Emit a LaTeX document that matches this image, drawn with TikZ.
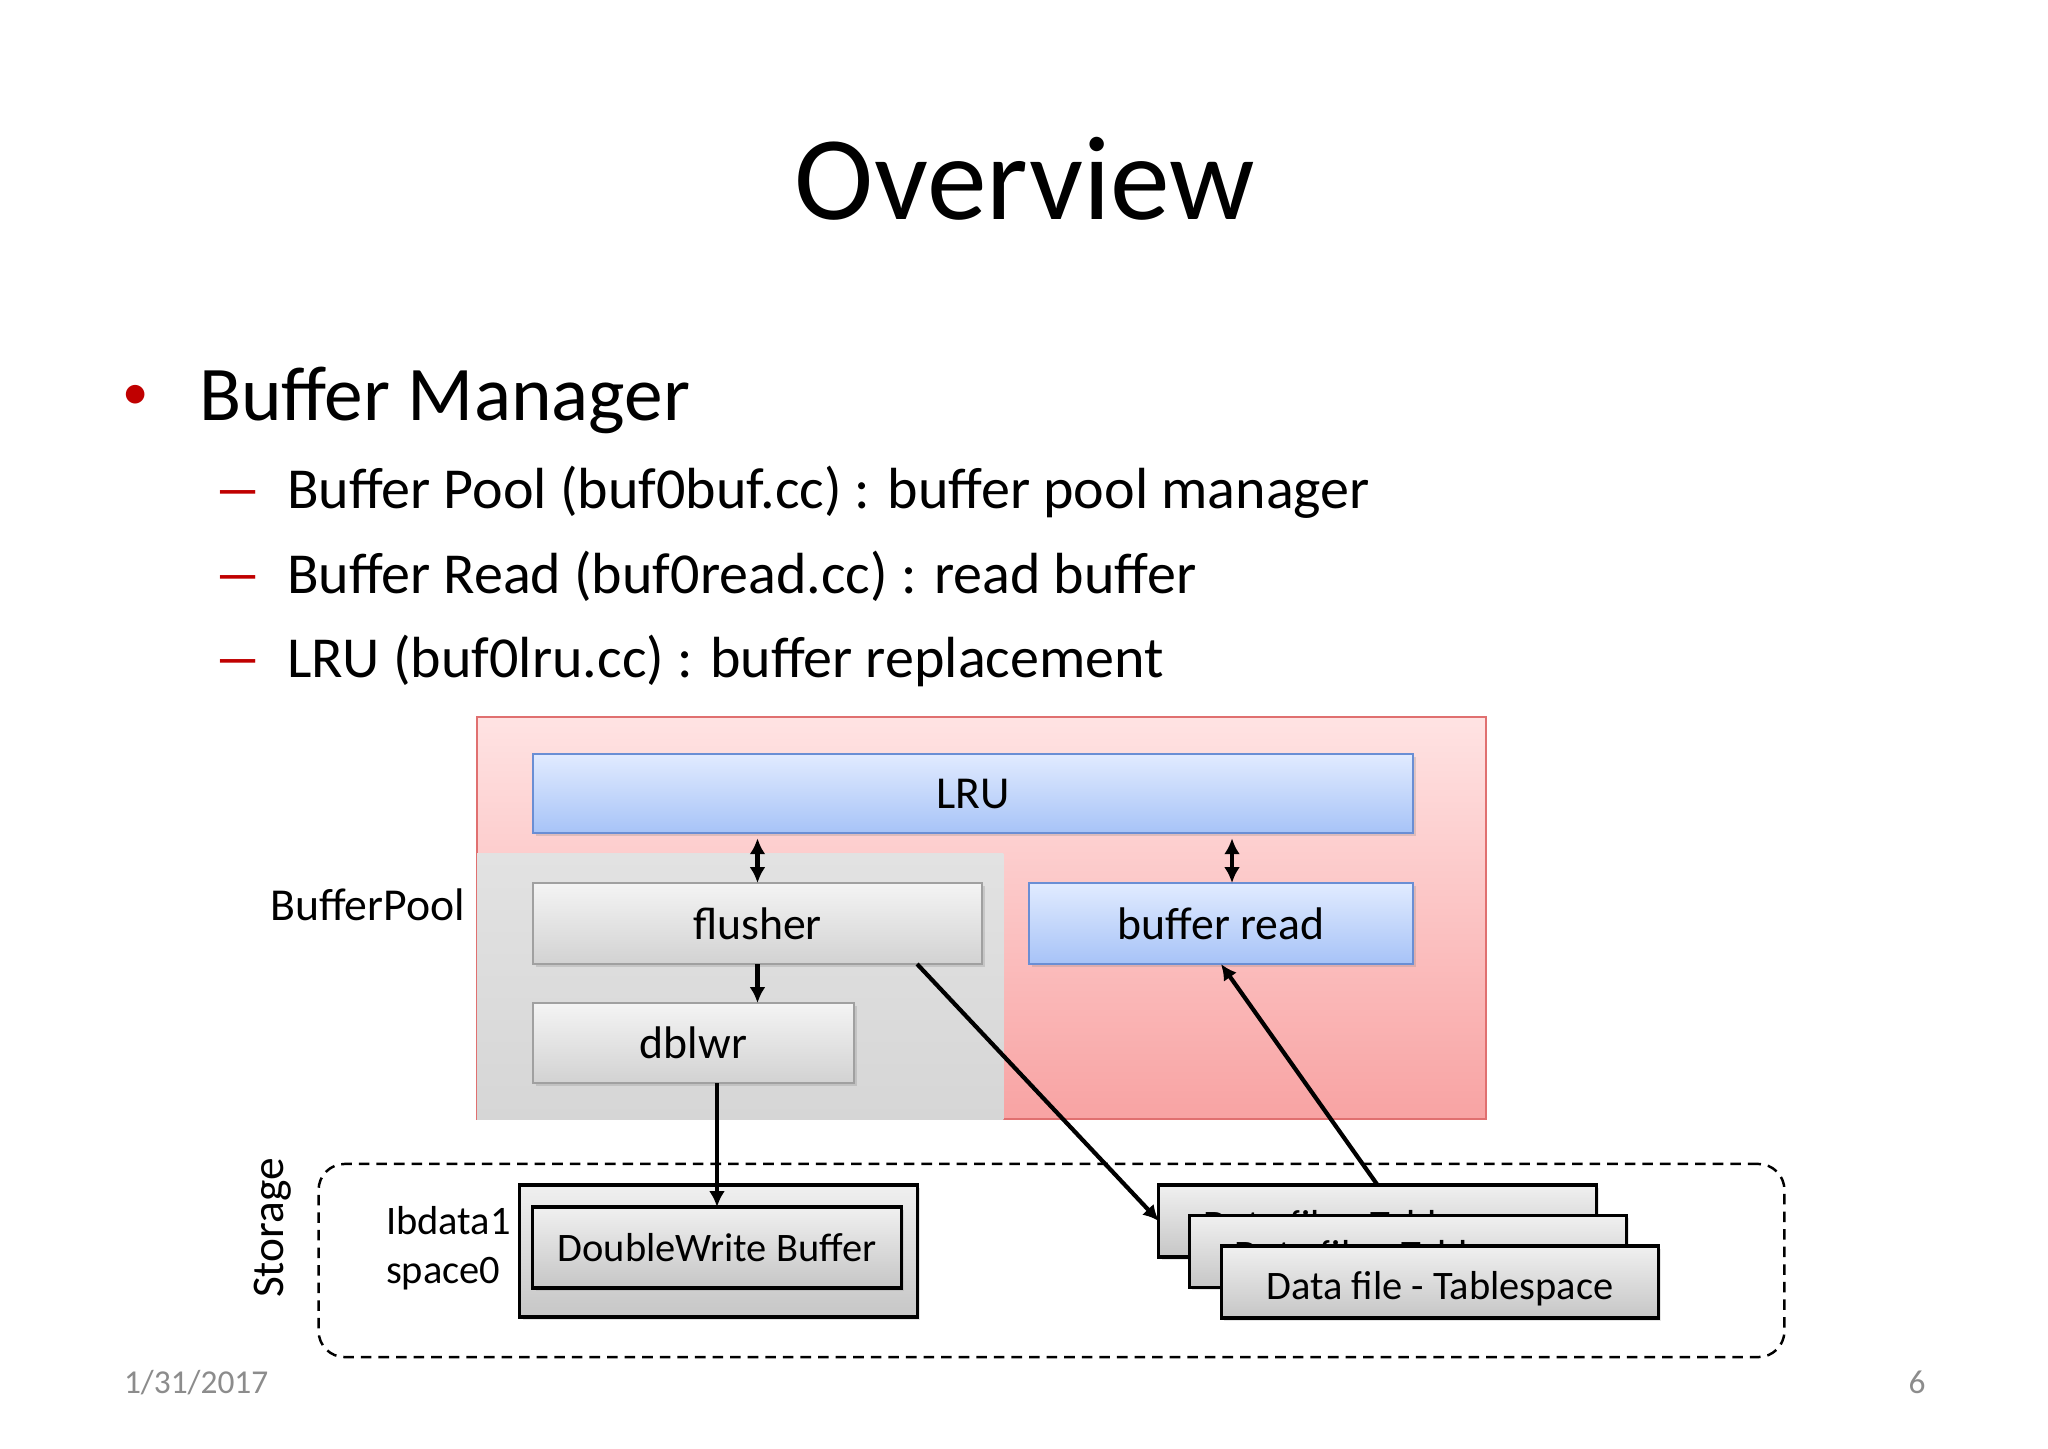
\documentclass[tikz,border=0pt]{standalone}
\usepackage{fontspec}
\setmainfont{Carlito}
\usetikzlibrary{arrows.meta,shadows,calc}
\definecolor{pinktop}{HTML}{FFE3E3}
\definecolor{pinkbot}{HTML}{F8A3A3}
\definecolor{pinkborder}{HTML}{E07070}
\definecolor{graytopA}{HTML}{E2E2E2}
\definecolor{graybotA}{HTML}{D6D6D6}
\definecolor{bluetop}{HTML}{E1EBFF}
\definecolor{bluebot}{HTML}{A7C3F7}
\definecolor{blueborder}{HTML}{6A8ED4}
\definecolor{boxtop}{HTML}{F4F4F4}
\definecolor{boxbot}{HTML}{D2D2D2}
\definecolor{boxborder}{HTML}{A0A0A0}
\definecolor{stotop}{HTML}{F0F0F0}
\definecolor{stobot}{HTML}{C6C6C6}
\definecolor{bulletred}{HTML}{C00000}
\definecolor{footgray}{HTML}{8C8C8C}
\begin{document}
\begin{tikzpicture}[x=0.01cm,y=-0.01cm,
  every node/.style={inner sep=0pt,outer sep=0pt},
  pinkarea/.style={draw=pinkborder,line width=0.6pt,top color=pinktop,bottom color=pinkbot},
  grayarea/.style={top color=graytopA,bottom color=graybotA},
  blueb/.style={draw=blueborder,line width=0.6pt,top color=bluetop,bottom color=bluebot,
    font=\fontsize{13}{15}\selectfont,drop shadow={opacity=0.25,shadow xshift=0.8pt,shadow yshift=-0.8pt}},
  grayb/.style={draw=boxborder,line width=0.6pt,top color=boxtop,bottom color=boxbot,
    font=\fontsize{13}{15}\selectfont,drop shadow={opacity=0.25,shadow xshift=0.8pt,shadow yshift=-0.8pt}},
  storeb/.style={draw=black,line width=0.9pt,top color=stotop,bottom color=stobot,
    font=\fontsize{11.5}{14}\selectfont,drop shadow={opacity=0.2,shadow xshift=0.8pt,shadow yshift=-0.8pt}},
  dfbox/.style={storeb,minimum width=4.37cm,minimum height=0.72cm,text height=0.34cm,text depth=0pt},
  lbl/.style={font=\fontsize{13}{15}\selectfont},
  slbl/.style={font=\fontsize{11.5}{14}\selectfont},
  subtxt/.style={anchor=base west,font=\fontsize{16.5}{20}\selectfont},
  reddash/.style={anchor=base,text=bulletred,font=\fontsize{16.5}{20}\selectfont},
  conn/.style={line width=1.2pt,-{Latex[length=4.5pt,width=4.5pt]}},
  biconn/.style={line width=1.2pt,{Latex[length=4.5pt,width=4.5pt]}-{Latex[length=4.5pt,width=4.5pt]}}
]
\useasboundingbox[fill=white] (0,0) rectangle (2048,1448);

% title and bullets
\node[anchor=base,font=\fontsize{34}{40}\selectfont] (title) at (1025,219) {Overview};
\node[anchor=base,text=bulletred,font=\fontsize{15}{18}\selectfont] (bul) at (136,409) {•};
\node[anchor=base west,font=\fontsize{22}{26}\selectfont] (bm) at (199,420) {Buffer Manager};
\node[reddash] (d1) at (238,508) {\scalebox{1.7}[1]{–}};
\node[reddash] (d2) at (238,593) {\scalebox{1.7}[1]{–}};
\node[reddash] (d3) at (238,677) {\scalebox{1.7}[1]{–}};
\node[subtxt] (s1) at (287,508) {Buffer Pool (buf0buf.cc) : buffer pool manager};
\node[subtxt] (s2) at (287,593) {Buffer Read (buf0read.cc) : read buffer};
\node[subtxt] (s3) at (287,677) {LRU (buf0lru.cc) : buffer replacement};

% buffer pool area
\node[pinkarea,minimum width=10.09cm,minimum height=4.02cm] (pool) at (981.5,918) {};
\node[grayarea,minimum width=5.26cm,minimum height=2.65cm] (bpgray) at (740.3,986.5) {};
\node[blueb,minimum width=8.80cm,minimum height=0.79cm] (lru) at (973,793.5) {LRU};
\node[grayb,minimum width=4.49cm,minimum height=0.81cm] (flusher) at (757.5,923.5) {flusher};
\node[blueb,minimum width=3.84cm,minimum height=0.81cm] (bufread) at (1221,923.5) {buffer read};
\node[grayb,minimum width=3.21cm,minimum height=0.80cm] (dblwr) at (693.5,1043) {dblwr};
\node[lbl,anchor=base east] (bplabel) at (465,920) {BufferPool};

% storage area
\node[draw,line width=0.7pt,dash pattern=on 3pt off 2pt,rounded corners=0.26cm,
      minimum width=14.65cm,minimum height=1.93cm] (storage) at (1051.5,1260.5) {};
\node[font=\fontsize{12.9}{15}\selectfont,rotate=90] (storlabel) at (273,1228) {Storage};
\node[storeb,minimum width=3.97cm,minimum height=1.32cm] (ibdata) at (718.5,1251) {};
\node[storeb,minimum width=3.68cm,minimum height=0.81cm] (dwb) at (717,1247.5) {DoubleWrite Buffer};
\node[slbl,anchor=base west] (ib1) at (386,1234) {Ibdata1};
\node[slbl,anchor=base west] (sp0) at (386,1283) {space0};
\node[dfbox] (df1) at (1377.5,1221) {Data file - Tablespace};
\node[dfbox] (df2) at (1408,1251.5) {Data file - Tablespace};
\node[dfbox] (df3) at (1440,1282) {Data file - Tablespace};

% connectors
\coordinate (brtop) at ([xshift=0.11cm]bufread.north);
\coordinate (flout) at ([xshift=-0.65cm]flusher.south east);
\draw[biconn] ([yshift=-1.5pt]flusher.north |- lru.south) -- (flusher.north);
\draw[biconn] ([yshift=-1.5pt]brtop |- lru.south) -- (brtop);
\draw[conn] (flusher.south) -- (flusher.south |- dblwr.north);
\draw[conn] (dwb.north |- dblwr.south) -- (dwb.north);
\draw[conn] (flout) -- (df1.west);
\draw[conn] (df1.north) -- (bufread.south);

% footer
\node[anchor=base west,text=footgray,font=\fontsize{9.5}{12}\selectfont] (date) at (124,1393) {1/31/2017};
\node[anchor=base,text=footgray,font=\fontsize{9.5}{12}\selectfont] (pnum) at (1917,1393) {6};
\end{tikzpicture}
\end{document}
